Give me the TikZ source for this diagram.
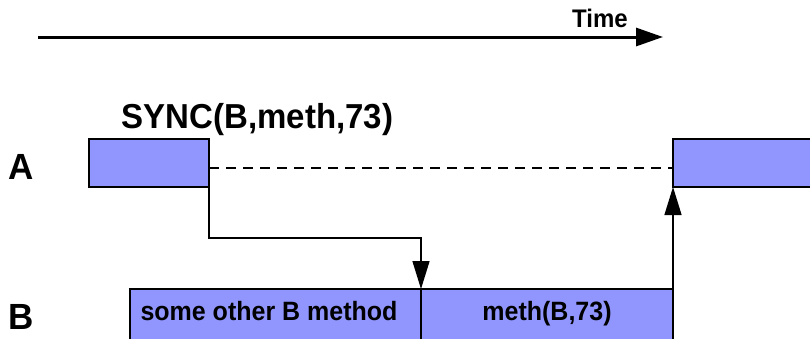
\documentclass[tikz,border=0pt]{standalone}
\usepackage{fontspec}
\setmainfont{Liberation Sans}
\usetikzlibrary{arrows.meta}
\definecolor{methodfill}{RGB}{145,150,255}
\begin{document}
\begin{tikzpicture}[x=1pt,y=-1pt,
  activity/.style={draw=black,line width=1.4pt,fill=methodfill,rectangle,
    inner sep=0pt,outer sep=0pt,font=\bfseries\fontsize{25}{30}\selectfont},
  label/.style={anchor=base,inner sep=0pt,font=\bfseries\fontsize{#1}{#1}\selectfont},
  link/.style={line width=1.4pt,-{Triangle[length=28pt,width=17pt]}},
]
\clip (0,0) rectangle (810,338);

% time axis
\coordinate (t0) at (38,37);
\coordinate (t1) at (663,37);
\draw[line width=3pt,-{Triangle[length=27pt,width=18pt]}] (t0) -- (t1);
\node[label=24,yscale=1.06] (time) at (600,27) {Time};

% thread labels
\node[label=35,yscale=1.04] (la) at (21,179) {A};
\node[label=35,yscale=1.04] (lb) at (21,329) {B};

% activities of thread A
\node[activity,minimum width=120pt,minimum height=48pt] (a1) at (149,163) {};
\node[activity,minimum width=140pt,minimum height=48pt] (a2) at (743,163) {};
\node[label=33,yscale=1.05] (sync) at (257.5,128) {SYNC(B,meth,73)};

% activities of thread B
\node[activity,minimum width=291pt,minimum height=60pt] (b1) at (275.5,319) {};
\node[activity,minimum width=252pt,minimum height=60pt] (b2) at (547,319) {};
\node[label=25,yscale=1.06] (t1txt) at (269,320) {some other B method};
\node[label=25,yscale=1.06] (t2txt) at (547,320) {meth(B,73)};

% waiting period of A
\draw[line width=1.4pt,dash pattern=on 10pt off 7pt]
  ([yshift=-5pt]a1.east) -- ([yshift=-5pt]a2.west);

% synchronous call and return
\draw[link] (a1.south east) -- ++(0,51) -| (b2.north west);
\draw[link] (b2.north east) -- (a2.south west);
\end{tikzpicture}
\end{document}
